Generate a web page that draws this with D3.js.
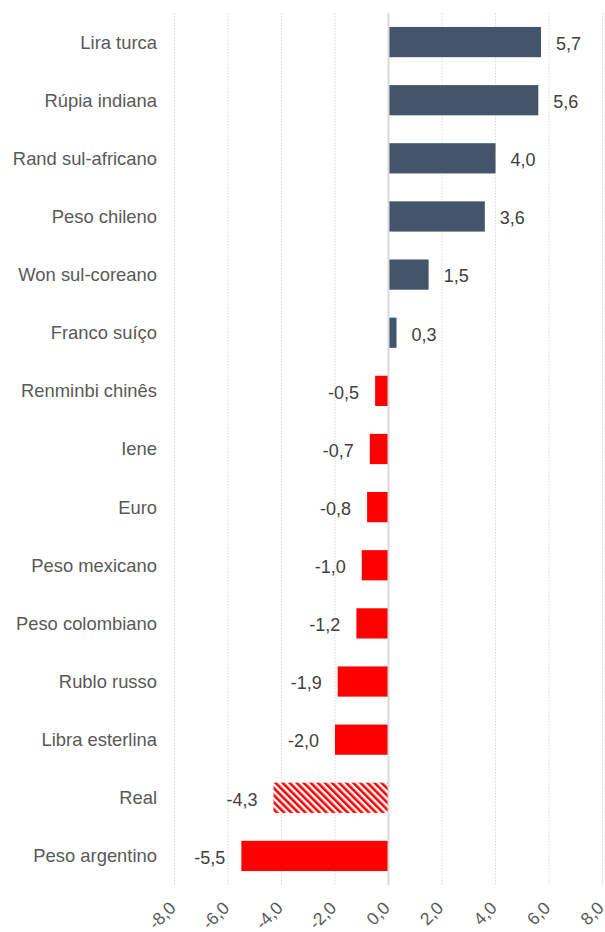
<!DOCTYPE html>
<html>
<head>
<meta charset="utf-8">
<script src="https://cdn.jsdelivr.net/npm/d3@7"></script>
<style>
  html, body { margin: 0; padding: 0; background: #ffffff; }
  svg { display: block; }
  text { font-family: "Liberation Sans", Arial, sans-serif; }
</style>
</head>
<body>
<svg id="chart" width="605" height="932"></svg>
<script>
const categories = ["Lira turca", "Rúpia indiana", "Rand sul-africano", "Peso chileno", "Won sul-coreano",
  "Franco suíço", "Renminbi chinês", "Iene", "Euro", "Peso mexicano", "Peso colombiano",
  "Rublo russo", "Libra esterlina", "Real", "Peso argentino"];
const values = [5.7, 5.6, 4.0, 3.6, 1.5, 0.3, -0.5, -0.7, -0.8, -1.0, -1.2, -1.9, -2.0, -4.3, -5.5];
const highlighted = ["Real"];
const xTicks = [-8, -6, -4, -2, 0, 2, 4, 6, 8];

const fmt = v => v.toFixed(1).replace(".", ",");
const data = categories.map((c, i) => ({ name: c, value: values[i] }));

const svg = d3.select("#chart");
const plotTop = 13, plotBottom = 885;
const x = d3.scaleLinear().domain([-8, 8]).range([174.5, 602.5]);
const y = d3.scaleBand().domain(categories).range([plotTop, plotBottom]).paddingInner(0.48).paddingOuter(0.24);

// hatch pattern
const defs = svg.append("defs");
const pat = defs.append("pattern").attr("id", "hatch").attr("patternUnits", "userSpaceOnUse")
  .attr("width", 5).attr("height", 10).attr("patternTransform", "rotate(-45)");
pat.append("rect").attr("width", 5).attr("height", 10).attr("fill", "#ffffff");
pat.append("rect").attr("width", 2.6).attr("height", 10).attr("fill", "#ff0000");

// gridlines
svg.append("g").selectAll("line").data(xTicks.filter(t => t !== 0)).join("line")
  .attr("x1", d => x(d)).attr("x2", d => x(d))
  .attr("y1", plotTop).attr("y2", plotBottom)
  .attr("stroke", "#d9d9d9").attr("stroke-width", 1).attr("stroke-dasharray", "1.5,1.5");

// bars
svg.append("g").selectAll("rect").data(data).join("rect")
  .attr("x", d => Math.min(x(0), x(d.value)))
  .attr("width", d => Math.abs(x(d.value) - x(0)))
  .attr("y", d => y(d.name))
  .attr("height", y.bandwidth())
  .attr("fill", d => highlighted.includes(d.name) ? "url(#hatch)" : (d.value >= 0 ? "#44546a" : "#ff0000"));

// zero line
svg.append("line").attr("x1", x(0)).attr("x2", x(0)).attr("y1", plotTop).attr("y2", plotBottom)
  .attr("stroke", "#d9d9d9").attr("stroke-width", 2);

// category labels
svg.append("g").selectAll("text").data(data).join("text")
  .attr("x", 157).attr("y", d => y(d.name) + y.bandwidth() / 2)
  .attr("dy", "0.35em").attr("text-anchor", "end")
  .attr("font-size", "18.4px").attr("fill", "#595959")
  .text(d => d.name);

// value labels
svg.append("g").selectAll("text").data(data).join("text")
  .attr("x", d => d.value >= 0 ? x(d.value) + 15 : x(d.value) - 16)
  .attr("y", d => y(d.name) + y.bandwidth() / 2 + 1.5)
  .attr("dy", "0.35em").attr("text-anchor", d => d.value >= 0 ? "start" : "end")
  .attr("font-size", "18px").attr("fill", "#404040")
  .text(d => fmt(d.value));

// x axis tick labels
const axis = d3.axisBottom(x).tickValues(xTicks).tickSize(0).tickFormat(fmt);
const gx = svg.append("g").attr("transform", `translate(0,${plotBottom})`).call(axis);
gx.select(".domain").remove();
gx.selectAll(".tick text")
  .attr("font-family", "\"Liberation Sans\", Arial, sans-serif")
  .attr("font-size", "17.5px").attr("fill", "#595959")
  .attr("text-anchor", "end")
  .attr("x", 0).attr("y", 0).attr("dy", 0)
  .attr("transform", "translate(2,24) rotate(-45)");
</script>
</body>
</html>
